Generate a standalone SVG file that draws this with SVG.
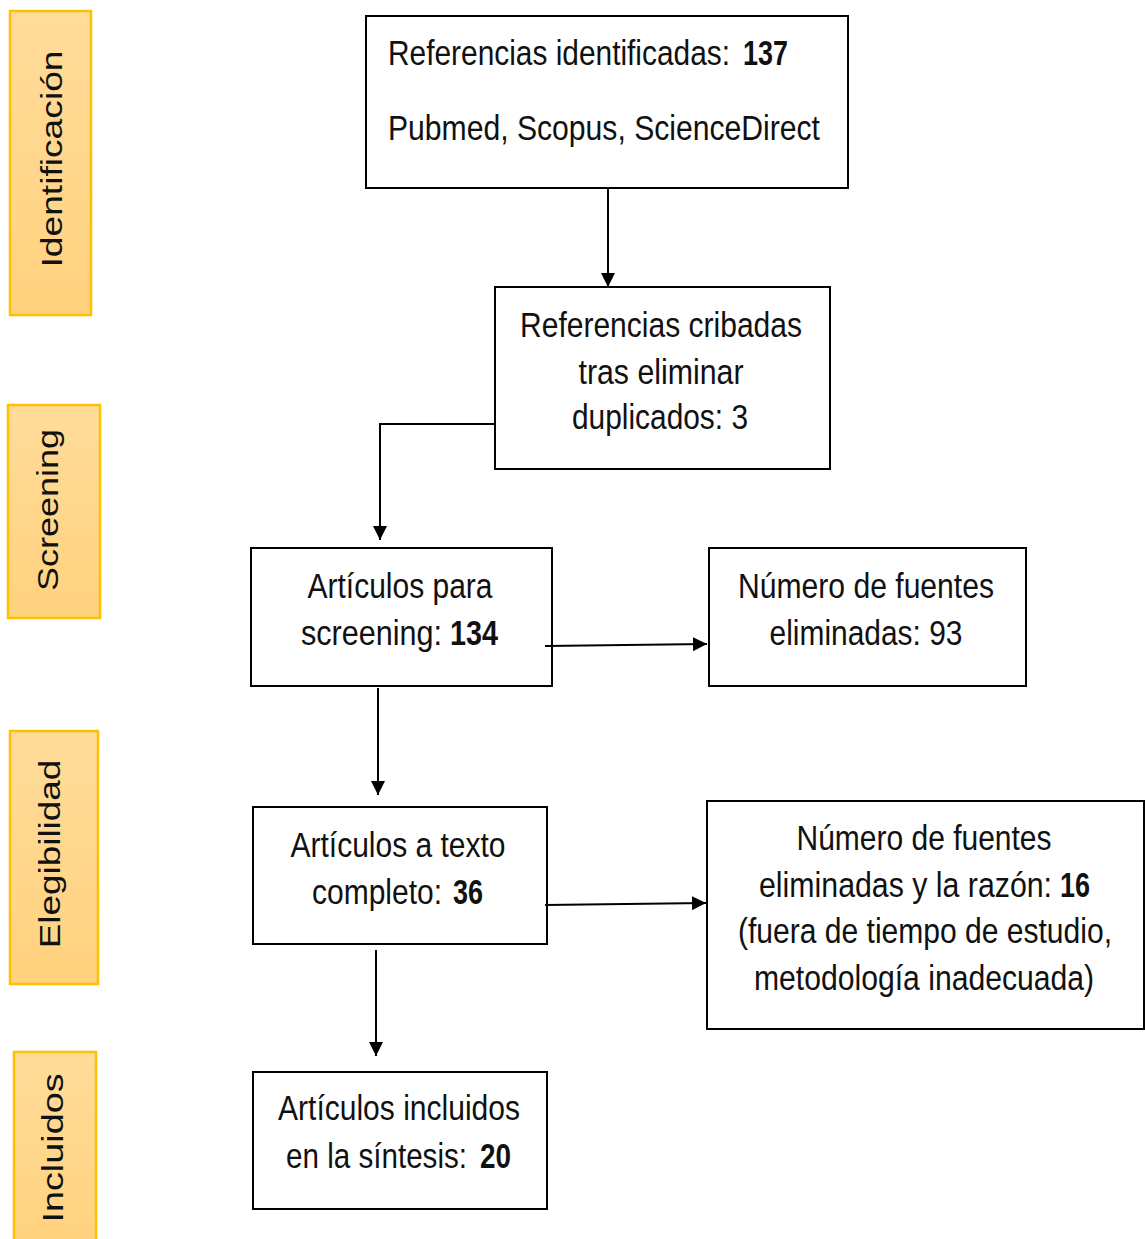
<svg xmlns="http://www.w3.org/2000/svg" width="1145" height="1239" viewBox="0 0 1145 1239">
<defs>
<linearGradient id="og" x1="0" y1="0" x2="0" y2="1">
<stop offset="0" stop-color="#FFDC9A"/>
<stop offset="1" stop-color="#FFD27E"/>
</linearGradient>
<marker id="ah" viewBox="0 0 10 10" refX="10" refY="5" markerWidth="14" markerHeight="14" markerUnits="userSpaceOnUse" orient="auto">
<path d="M0,0 L10,5 L0,10 Z" fill="#000"/>
</marker>
<style>
.stage{fill:url(#og);stroke:#FFC000;stroke-width:2.5}
.stxt{font-family:"Liberation Sans",Arial,sans-serif;font-size:30px;fill:#111;text-anchor:middle}
.box{fill:#fff;stroke:#000;stroke-width:2}
.t{font-family:"Liberation Sans",Arial,sans-serif;font-size:30px;fill:#111}
.c{text-anchor:middle}
.b{font-weight:bold}
.conn{fill:none;stroke:#000;stroke-width:2;marker-end:url(#ah)}
</style>
</defs>
<rect width="1145" height="1239" fill="#fff"/>
<g id="stage-identificacion">
<rect class="stage" x="10" y="11" width="81" height="304"/>
<text class="stxt" transform="translate(62,159) rotate(-90) scale(1.24,1)">Identificación</text>
</g>
<g id="stage-screening">
<rect class="stage" x="8" y="405" width="92" height="213"/>
<text class="stxt" transform="translate(58,510) rotate(-90) scale(1.2,1)">Screening</text>
</g>
<g id="stage-elegibilidad">
<rect class="stage" x="10" y="731" width="88" height="253"/>
<text class="stxt" transform="translate(60,854) rotate(-90) scale(1.23,1)">Elegibilidad</text>
</g>
<g id="stage-incluidos">
<rect class="stage" x="14" y="1052" width="82" height="200"/>
<text class="stxt" transform="translate(63,1148) rotate(-90) scale(1.26,1)">Incluidos</text>
</g>
<g id="n1">
<rect class="box" x="366" y="16" width="482" height="172"/>
<text class="t" transform="translate(388,65) scale(1,1.17)" textLength="342" lengthAdjust="spacingAndGlyphs">Referencias identificadas:</text>
<text class="t b" transform="translate(743,65) scale(1,1.17)" textLength="45" lengthAdjust="spacingAndGlyphs">137</text>
<text class="t" transform="translate(388,140) scale(1,1.17)" textLength="432" lengthAdjust="spacingAndGlyphs">Pubmed, Scopus, ScienceDirect</text>
</g>
<g id="n2">
<rect class="box" x="495" y="287" width="335" height="182"/>
<text class="t c" transform="translate(661,337) scale(1,1.17)" textLength="282" lengthAdjust="spacingAndGlyphs">Referencias cribadas</text>
<text class="t c" transform="translate(661,384) scale(1,1.17)" textLength="165" lengthAdjust="spacingAndGlyphs">tras eliminar</text>
<text class="t c" transform="translate(660,429) scale(1,1.17)" textLength="176" lengthAdjust="spacingAndGlyphs">duplicados: 3</text>
</g>
<g id="n3">
<rect class="box" x="251" y="548" width="301" height="138"/>
<text class="t c" transform="translate(400,598) scale(1,1.17)" textLength="185" lengthAdjust="spacingAndGlyphs">Artículos para</text>
<text class="t" transform="translate(301,645) scale(1,1.17)" textLength="141" lengthAdjust="spacingAndGlyphs">screening:</text>
<text class="t b" transform="translate(450,645) scale(1,1.17)" textLength="48" lengthAdjust="spacingAndGlyphs">134</text>
</g>
<g id="n4">
<rect class="box" x="709" y="548" width="317" height="138"/>
<text class="t c" transform="translate(866,598) scale(1,1.17)" textLength="256" lengthAdjust="spacingAndGlyphs">Número de fuentes</text>
<text class="t c" transform="translate(866,645) scale(1,1.17)" textLength="193" lengthAdjust="spacingAndGlyphs">eliminadas: 93</text>
</g>
<g id="n5">
<rect class="box" x="253" y="807" width="294" height="137"/>
<text class="t c" transform="translate(398,857) scale(1,1.17)" textLength="215" lengthAdjust="spacingAndGlyphs">Artículos a texto</text>
<text class="t" transform="translate(312,904) scale(1,1.17)" textLength="130" lengthAdjust="spacingAndGlyphs">completo:</text>
<text class="t b" transform="translate(453,904) scale(1,1.17)" textLength="30" lengthAdjust="spacingAndGlyphs">36</text>
</g>
<g id="n6">
<rect class="box" x="707" y="801" width="437" height="228"/>
<text class="t c" transform="translate(924,850) scale(1,1.17)" textLength="255" lengthAdjust="spacingAndGlyphs">Número de fuentes</text>
<text class="t" transform="translate(759,897) scale(1,1.17)" textLength="293" lengthAdjust="spacingAndGlyphs">eliminadas y la razón:</text>
<text class="t b" transform="translate(1060,897) scale(1,1.17)" textLength="30" lengthAdjust="spacingAndGlyphs">16</text>
<text class="t c" transform="translate(925,943) scale(1,1.17)" textLength="374" lengthAdjust="spacingAndGlyphs">(fuera de tiempo de estudio,</text>
<text class="t c" transform="translate(924,990) scale(1,1.17)" textLength="340" lengthAdjust="spacingAndGlyphs">metodología inadecuada)</text>
</g>
<g id="n7">
<rect class="box" x="253" y="1072" width="294" height="137"/>
<text class="t c" transform="translate(399,1120) scale(1,1.17)" textLength="242" lengthAdjust="spacingAndGlyphs">Artículos incluidos</text>
<text class="t" transform="translate(286,1168) scale(1,1.17)" textLength="181" lengthAdjust="spacingAndGlyphs">en la síntesis:</text>
<text class="t b" transform="translate(480,1168) scale(1,1.17)" textLength="31" lengthAdjust="spacingAndGlyphs">20</text>
</g>
<g id="connectors">
<path class="conn" d="M608,188 L608,287"/>
<path class="conn" d="M495,424 L380,424 L380,540"/>
<path class="conn" d="M545,646 L707,644"/>
<path class="conn" d="M378,688 L378,795"/>
<path class="conn" d="M545,905 L706,903"/>
<path class="conn" d="M376,950 L376,1056"/>
</g>
</svg>
